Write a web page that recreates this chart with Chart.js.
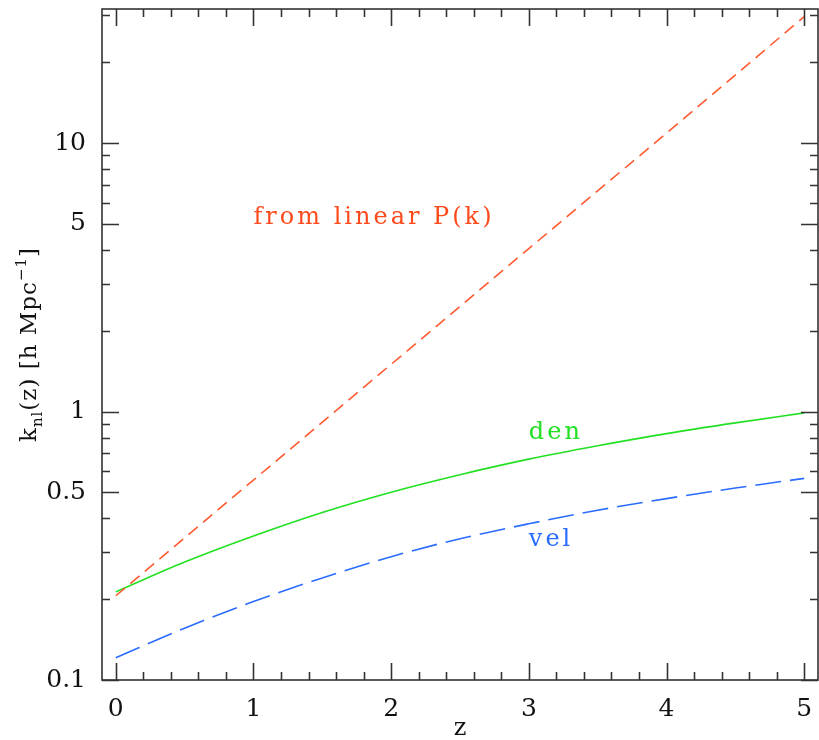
<!DOCTYPE html>
<html>
<head>
<meta charset="utf-8">
<script src="https://cdn.jsdelivr.net/npm/chart.js@4/dist/chart.umd.min.js"></script>
<style>
  html, body { margin: 0; padding: 0; background: #fff; }
  #wrap { width: 819px; height: 740px; }
</style>
</head>
<body>
<div id="wrap"><canvas id="knl"></canvas></div>
<script>
// redshift grid and k_nl values
const zGrid = [0, 0.5, 1, 1.5, 2, 2.5, 3, 3.5, 4, 4.5, 5];
const denValues = [0.213, 0.275, 0.344, 0.421, 0.501, 0.582, 0.665, 0.746, 0.828, 0.908, 0.989];
const velValues = [0.121, 0.156, 0.196, 0.240, 0.288, 0.336, 0.382, 0.429, 0.474, 0.519, 0.564];
const zLinear = [0, 1, 2, 3, 4, 5];
const linValues = [0.206, 0.556, 1.50, 4.05, 10.9, 29.6];

const yTickValues = [0.1, 0.5, 1, 5, 10];

const serif = "'DejaVu Serif', 'Liberation Serif', serif";

function pts(xs, ys) {
  return xs.map((x, i) => ({ x: x, y: ys[i] }));
}

// frame, inward ticks on all four sides, titles and line labels
const framePlugin = {
  id: 'frame',
  afterDraw(chart) {
    const ctx = chart.ctx;
    const { left, right, top, bottom } = chart.chartArea;
    const xs = chart.scales.x, ys = chart.scales.y;
    ctx.save();
    ctx.strokeStyle = '#333';
    ctx.lineWidth = 1.6;
    ctx.strokeRect(left, top, right - left, bottom - top);

    ctx.beginPath();
    for (let i = 0; i <= 25; i++) {
      const px = Math.round(xs.getPixelForValue(i / 5)) + 0.5;
      const len = i % 5 === 0 ? 17 : 8;
      ctx.moveTo(px, bottom); ctx.lineTo(px, bottom - len);
      ctx.moveTo(px, top); ctx.lineTo(px, top + len);
    }
    [0.1, 1, 10].forEach(d => {
      for (let m = 1; m <= 9; m++) {
        const v = d * m;
        if (v > ys.max) break;
        const py = Math.round(ys.getPixelForValue(v)) + 0.5;
        const len = (m === 1 || m === 5) ? 17 : 8;
        ctx.moveTo(left, py); ctx.lineTo(left + len, py);
        ctx.moveTo(right, py); ctx.lineTo(right - len, py);
      }
    });
    ctx.stroke();

    // axis titles
    ctx.fillStyle = '#111';
    ctx.font = '24px ' + serif;
    ctx.textAlign = 'center';
    ctx.textBaseline = 'alphabetic';
    ctx.fillText('z', (left + right) / 2, 735);

    ctx.save();
    ctx.translate(36, (top + bottom) / 2);
    ctx.rotate(-Math.PI / 2);
    const parts = [
      { t: 'k', size: 23, dy: 0 },
      { t: 'nl', size: 15, dy: 6 },
      { t: '(z) [h Mpc', size: 23, dy: 0 },
      { t: '\u22121', size: 15, dy: -10 },
      { t: ']', size: 23, dy: 0 }
    ];
    ctx.letterSpacing = '1px';
    let total = 0;
    parts.forEach(p => { ctx.font = p.size + 'px ' + serif; p.w = ctx.measureText(p.t).width; total += p.w; });
    let cx = -total / 2;
    ctx.textAlign = 'left';
    parts.forEach(p => {
      ctx.font = p.size + 'px ' + serif;
      ctx.fillText(p.t, cx, p.dy);
      cx += p.w;
    });
    ctx.restore();

    // in-plot labels
    ctx.textAlign = 'left';
    ctx.letterSpacing = '3px';
    ctx.font = '24px ' + serif;
    ctx.fillStyle = '#ff4a1c';
    ctx.fillText('from linear P(k)', xs.getPixelForValue(1.0), ys.getPixelForValue(5));
    ctx.fillStyle = '#22e022';
    ctx.fillText('den', xs.getPixelForValue(3.0), ys.getPixelForValue(0.79));
    ctx.fillStyle = '#2a6cff';
    ctx.fillText('vel', xs.getPixelForValue(3.0), ys.getPixelForValue(0.315));
    ctx.restore();
  }
};

new Chart(document.getElementById('knl'), {
  type: 'line',
  data: {
    datasets: [
      {
        label: 'from linear P(k)',
        data: pts(zLinear, linValues),
        borderColor: '#ff5a30',
        borderWidth: 1.6,
        borderDash: [12, 7],
        pointRadius: 0,
        fill: false
      },
      {
        label: 'den',
        data: pts(zGrid, denValues),
        borderColor: '#22e022',
        borderWidth: 1.6,
        pointRadius: 0,
        cubicInterpolationMode: 'monotone',
        fill: false
      },
      {
        label: 'vel',
        data: pts(zGrid, velValues),
        borderColor: '#2a6cff',
        borderWidth: 1.6,
        borderDash: [26, 9],
        pointRadius: 0,
        cubicInterpolationMode: 'monotone',
        fill: false
      }
    ]
  },
  options: {
    responsive: true,
    maintainAspectRatio: false,
    animation: false,
    layout: { padding: { top: 9, right: 1, left: 0, bottom: 0 } },
    plugins: {
      legend: { display: false },
      tooltip: { enabled: false }
    },
    scales: {
      x: {
        type: 'linear',
        min: -0.1,
        max: 5.1,
        grid: { display: false, drawTicks: false },
        border: { display: false },
        afterBuildTicks: s => { s.ticks = [0, 1, 2, 3, 4, 5].map(v => ({ value: v })); },
        afterFit: s => { s.height = 60; s.paddingLeft = 0; s.paddingRight = 0; },
        ticks: {
          padding: 14,
          color: '#111',
          maxRotation: 0,
          font: { family: serif, size: 25 },
          callback: v => String(v)
        }
      },
      y: {
        type: 'logarithmic',
        min: 0.1,
        max: 31.62,
        grid: { display: false, drawTicks: false },
        border: { display: false },
        afterBuildTicks: s => { s.ticks = yTickValues.map(v => ({ value: v })); },
        afterFit: s => { s.width = 102; s.paddingTop = 0; s.paddingBottom = 0; },
        ticks: {
          padding: 16,
          color: '#111',
          font: { family: serif, size: 25 },
          callback: v => String(v)
        }
      }
    }
  },
  plugins: [framePlugin]
});
</script>
</body>
</html>
